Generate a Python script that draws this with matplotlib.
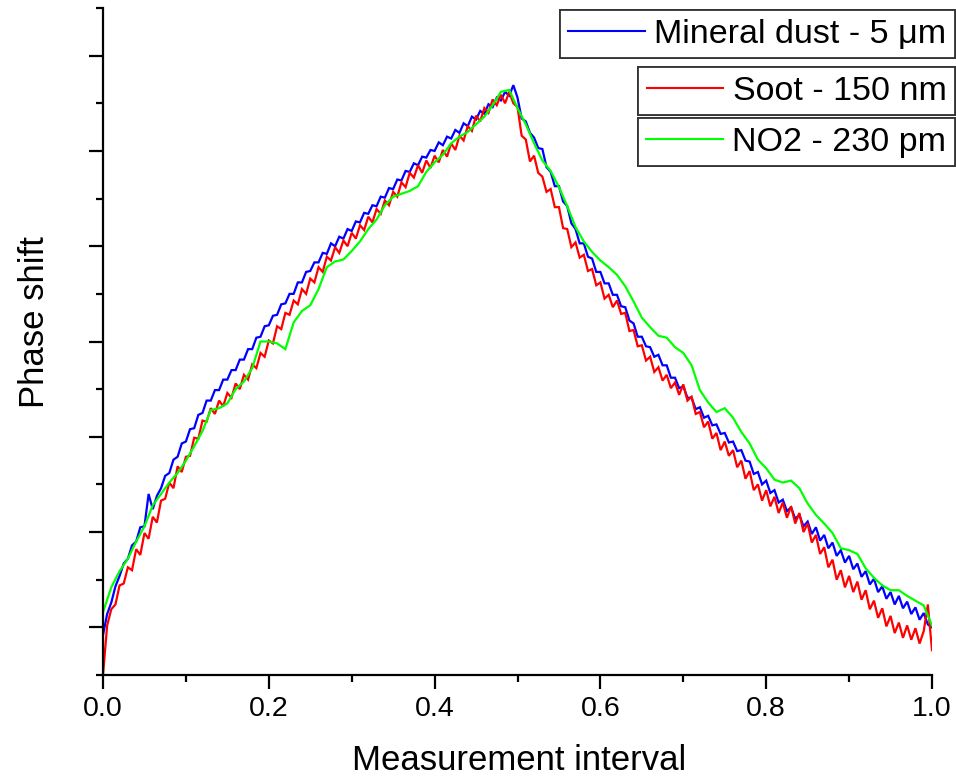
import numpy as np
import matplotlib
matplotlib.use("Agg")
import matplotlib.pyplot as plt

plt.rcParams['font.family'] = ['Liberation Sans', 'DejaVu Sans']

# ---- data (phase shift in arbitrary units, axis 0..70) ----
series_names = ["Mineral dust - 5 \u03bcm", "Soot - 150 nm", "NO2 - 230 pm"]
series_colors = ["#0000FF", "#FF0000", "#00FF00"]

x_fine = np.linspace(0.0, 1.0, 201)   # sampling grid for dust & soot
x_coarse = np.linspace(0.0, 1.0, 101)  # sampling grid for NO2

dust = [
    4.2, 6.4, 7.6, 9.3, 10.4, 11.7, 12.2, 13.6, 14.0, 15.5,
    15.6, 19.0, 17.4, 18.8, 19.6, 20.9, 21.2, 22.6, 22.9, 24.3,
    24.5, 25.8, 25.9, 27.3, 27.5, 28.8, 28.8, 29.9, 29.9, 31.0,
    31.0, 32.0, 32.0, 33.1, 33.1, 34.2, 34.2, 35.4, 35.5, 36.6,
    36.7, 37.7, 37.8, 38.9, 39.0, 40.0, 40.0, 41.2, 41.2, 42.3,
    42.4, 43.3, 43.3, 44.3, 44.2, 45.3, 45.0, 46.0, 45.8, 46.8,
    46.6, 47.6, 47.5, 48.5, 48.4, 49.3, 49.2, 50.2, 50.1, 51.1,
    51.0, 52.0, 51.9, 52.9, 52.8, 53.7, 53.5, 54.4, 54.3, 55.1,
    55.0, 55.9, 55.6, 56.5, 56.3, 57.2, 56.9, 57.9, 57.6, 58.6,
    58.3, 59.2, 58.9, 59.9, 59.6, 60.6, 60.3, 61.2, 60.8, 61.9,
    60.6, 58.4, 58.1, 56.9, 56.4, 55.3, 55.2, 53.3, 52.8, 51.3,
    51.3, 49.7, 49.2, 47.4, 46.8, 45.3, 45.3, 43.9, 43.7, 42.3,
    42.3, 41.1, 41.1, 39.9, 39.9, 38.7, 38.6, 37.2, 36.9, 35.5,
    35.5, 34.5, 34.4, 33.4, 33.6, 32.5, 32.5, 31.2, 31.2, 30.1,
    30.3, 29.1, 29.1, 27.9, 28.1, 27.0, 27.2, 26.2, 26.3, 25.3,
    25.4, 24.4, 24.5, 23.5, 23.6, 22.5, 22.4, 21.1, 21.3, 20.0,
    20.4, 19.1, 19.4, 18.1, 18.4, 17.2, 17.6, 16.4, 16.8, 15.6,
    16.1, 14.8, 15.5, 14.1, 14.7, 13.3, 13.9, 12.5, 13.1, 11.8,
    12.5, 11.1, 11.7, 10.3, 10.9, 9.5, 10.1, 8.7, 9.3, 8.0,
    8.7, 7.4, 8.3, 7.0, 7.7, 6.4, 7.1, 5.8, 6.5, 5.3,
    5.0,
]

soot = [
    0.0, 5.2, 6.9, 7.4, 9.4, 9.6, 11.3, 11.0, 13.2, 12.6,
    14.9, 14.3, 16.6, 16.0, 18.3, 18.5, 20.2, 19.6, 21.9, 21.3,
    22.9, 23.0, 24.9, 24.8, 26.7, 26.6, 28.0, 27.4, 28.8, 28.2,
    29.6, 29.1, 30.6, 30.0, 31.5, 31.0, 32.6, 32.2, 33.8, 33.4,
    35.1, 34.8, 36.6, 36.3, 38.0, 37.8, 39.3, 38.9, 40.5, 40.0,
    41.6, 41.2, 42.8, 42.3, 43.9, 43.5, 44.9, 44.3, 45.6, 45.0,
    46.4, 45.8, 47.2, 46.7, 48.1, 47.5, 48.9, 48.4, 49.8, 49.3,
    50.7, 50.2, 51.7, 51.2, 52.7, 52.2, 53.5, 52.7, 54.0, 53.2,
    54.5, 53.8, 55.1, 54.4, 55.8, 55.1, 56.6, 56.1, 57.6, 57.1,
    58.7, 58.1, 59.5, 59.0, 60.4, 59.8, 60.9, 60.0, 61.2, 60.0,
    59.6, 56.6, 56.2, 53.9, 54.5, 52.7, 52.3, 50.7, 51.0, 49.1,
    49.1, 46.9, 46.8, 44.9, 45.4, 43.8, 44.1, 42.4, 42.6, 40.9,
    41.2, 39.5, 39.9, 38.6, 39.3, 37.9, 38.0, 36.1, 36.2, 34.5,
    34.6, 33.0, 33.4, 31.8, 32.3, 30.9, 31.5, 30.1, 30.7, 29.4,
    30.5, 28.8, 29.2, 27.4, 27.6, 26.0, 26.6, 24.8, 25.4, 23.6,
    24.5, 23.0, 23.6, 21.8, 22.5, 20.6, 21.4, 19.4, 20.0, 18.3,
    19.4, 17.7, 18.7, 17.0, 18.1, 16.5, 17.7, 15.9, 17.0, 15.0,
    15.9, 13.9, 14.7, 12.7, 13.4, 11.3, 12.1, 10.0, 11.0, 9.2,
    10.4, 8.7, 9.8, 7.9, 8.9, 6.9, 7.8, 6.0, 7.0, 5.1,
    6.2, 4.4, 5.5, 3.9, 5.2, 3.7, 4.9, 3.3, 4.6, 7.4,
    2.6,
]

no2 = [
    6.6, 9.2, 10.9, 12.2, 14.0, 15.6, 17.8, 19.0, 20.2, 21.2,
    22.5, 24.0, 25.6, 27.8, 28.0, 28.5, 30.0, 30.8, 32.2, 35.0,
    35.0, 34.8, 34.2, 37.0, 38.2, 38.8, 40.5, 42.8, 43.4, 43.6,
    44.5, 45.5, 46.8, 47.8, 49.3, 50.2, 50.5, 50.8, 51.3, 52.8,
    53.8, 54.6, 55.8, 56.5, 57.0, 57.8, 58.6, 59.8, 61.2, 61.4,
    59.5, 57.8, 55.8, 54.0, 52.9, 51.2, 49.2, 47.0, 45.5, 44.4,
    43.5, 42.8, 42.0, 40.8, 39.2, 37.5, 36.5, 35.6, 35.4, 34.4,
    33.8, 32.5, 29.9, 28.6, 27.6, 28.0, 27.0, 25.5, 24.3, 22.6,
    21.7, 20.5, 20.2, 20.4, 19.6, 18.0, 16.8, 15.9, 14.9, 13.3,
    13.1, 12.7, 11.2, 10.2, 9.4, 8.9, 8.9, 8.3, 7.8, 7.3,
    5.2,
]

x_major = [0.0, 0.2, 0.4, 0.6, 0.8, 1.0]
x_major_labels = ["0.0", "0.2", "0.4", "0.6", "0.8", "1.0"]
x_minor = [0.1, 0.3, 0.5, 0.7, 0.9]
y_major = [5, 15, 25, 35, 45, 55, 65]
y_minor = [0, 10, 20, 30, 40, 50, 60, 70]

# ---- figure ----
W, H = 956, 778
fig = plt.figure(figsize=(W / 100, H / 100), dpi=100)
ax = fig.add_axes([103 / W, 1 - 675 / H, (932 - 103) / W, (675 - 8) / H])

lines = []
for xs, ys, c in [(x_fine, dust, series_colors[0]),
                  (x_fine, soot, series_colors[1]),
                  (x_coarse, no2, series_colors[2])]:
    ln, = ax.plot(xs, ys, color=c, lw=1.6, solid_joinstyle='miter')
    lines.append(ln)

ax.set_xlim(0, 1)
ax.set_ylim(0, 70)
for s in ['top', 'right']:
    ax.spines[s].set_visible(False)
for s in ['left', 'bottom']:
    ax.spines[s].set_linewidth(1.6)

ax.set_xticks(x_major)
ax.set_xticklabels(x_major_labels)
ax.set_xticks(x_minor, minor=True)
ax.set_yticks(y_major)
ax.set_yticks(y_minor, minor=True)
ax.set_yticklabels([])
ax.tick_params(which='major', length=10, width=1.6, direction='out', labelsize=20.5, pad=5)
ax.tick_params(which='minor', length=5, width=1.6, direction='out')

fig.text(519 / W, 1 - 760 / H, "Measurement interval", ha='center', va='center', fontsize=25)
fig.text(35 / W, 1 - 322 / H, "Phase shift", ha='center', va='center', rotation=90, fontsize=25)

# three separate legend boxes
tops = [1 - 10 / H, 1 - 67 / H, 1 - 118 / H]
for ln, name, top in zip(lines, series_names, tops):
    leg = fig.legend([ln], [name], loc='upper right', bbox_to_anchor=(955 / W, top),
                     bbox_transform=fig.transFigure, fontsize=24.5, frameon=True,
                     fancybox=False, shadow=False, borderpad=0.25, borderaxespad=0,
                     handlelength=2.25, handletextpad=0.28)
    fr = leg.get_frame()
    fr.set_edgecolor('#333333')
    fr.set_linewidth(1.3)
    fr.set_alpha(1)
    for h in leg.legend_handles:
        h.set_linewidth(1.5)
    fig.add_artist(leg)

fig.savefig("out.png", dpi=100)
